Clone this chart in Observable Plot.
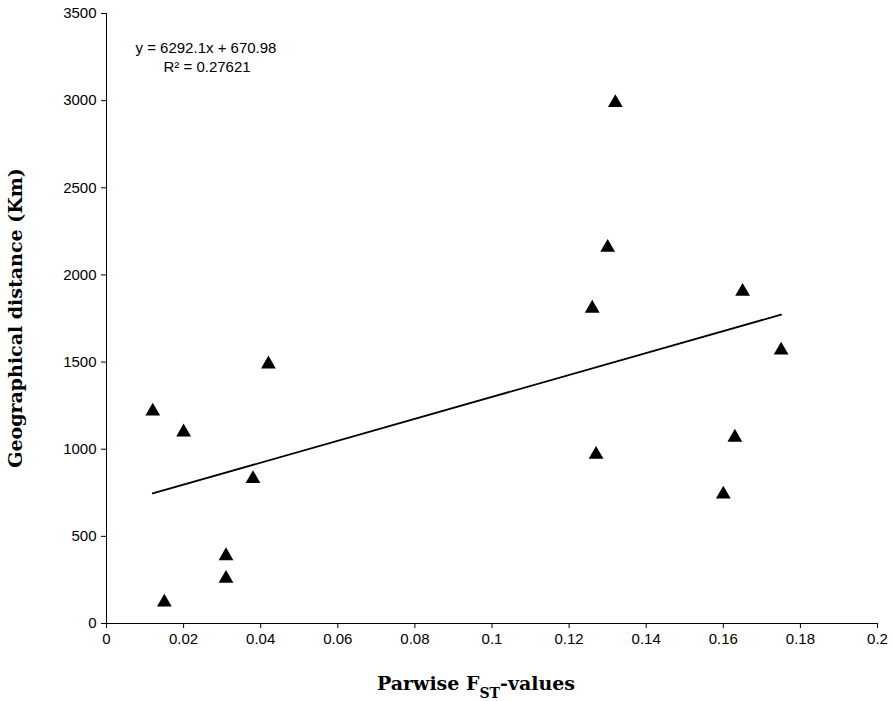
<!DOCTYPE html>
<html><head><meta charset="utf-8">
<script src="https://cdn.jsdelivr.net/npm/d3@7"></script>
<script src="https://cdn.jsdelivr.net/npm/@observablehq/plot@0.6"></script>
<style>body{margin:0;background:#fff}</style>
</head><body><div id="chart"></div>
<script>
const fst  = [0.012, 0.015, 0.020, 0.031, 0.031, 0.038, 0.042, 0.126, 0.127, 0.130, 0.132, 0.160, 0.163, 0.165, 0.175];
const dist = [1218, 122, 1098, 388, 258, 830, 1488, 1808, 970, 2157, 2988, 742, 1068, 1905, 1568];
const slope = 6292.1, intercept = 670.98;
const xTicks = [0, 0.02, 0.04, 0.06, 0.08, 0.1, 0.12, 0.14, 0.16, 0.18, 0.2];
const yTicks = [0, 500, 1000, 1500, 2000, 2500, 3000, 3500];

const pts = fst.map((x, i) => ({x, y: dist[i]}));
const xmin = d3.min(fst), xmax = d3.max(fst);
const trend = [xmin, xmax].map(x => ({x, y: slope * x + intercept}));
const xfmt = d => d === 0 ? "0" : String(+d.toFixed(2));

const chart = Plot.plot({
  width: 893, height: 701,
  marginLeft: 106, marginRight: 16, marginTop: 13, marginBottom: 78,
  style: {fontFamily: "Liberation Sans, sans-serif", fontSize: "15px", color: "#000"},
  x: {domain: [0, 0.2], label: null},
  y: {domain: [0, 3500], label: null},
  marks: [
    Plot.axisX({ticks: xTicks, tickSize: 5, tickPadding: 5, fontSize: 15, tickFormat: xfmt}),
    Plot.axisY({ticks: yTicks, tickSize: 5, tickPadding: 5, fontSize: 15, tickFormat: d => String(d)}),
    Plot.ruleX([0], {stroke: "#000"}),
    Plot.ruleY([0], {stroke: "#000"}),
    Plot.line(trend, {x: "x", y: "y", stroke: "#000", strokeWidth: 1.8}),
    Plot.dot(pts, {x: "x", y: "y", symbol: "triangle", fill: "#000", r: 5.5}),
    Plot.text(["y = 6292.1x + 670.98"], {frameAnchor: "top-left", dx: 29, dy: 29, fontSize: 15, fontFamily: "Liberation Sans, sans-serif", textAnchor: "start"}),
    Plot.text(["R² = 0.27621"], {frameAnchor: "top-left", dx: 57, dy: 48, fontSize: 15, fontFamily: "Liberation Sans, sans-serif", textAnchor: "start"})
  ]
});
const svg = d3.select(chart);
svg.append("text").attr("x", 476).attr("y", 690).attr("text-anchor", "middle")
  .style("font", "bold 19px 'DejaVu Serif', serif")
  .html('Parwise F<tspan baseline-shift="sub" font-size="14">ST</tspan>-values');
svg.append("text").attr("transform", "translate(22,318) rotate(-90)").attr("text-anchor", "middle")
  .style("font", "bold 19px 'DejaVu Serif', serif").text("Geographical distance (Km)");
document.getElementById("chart").append(chart);
</script></body></html>
